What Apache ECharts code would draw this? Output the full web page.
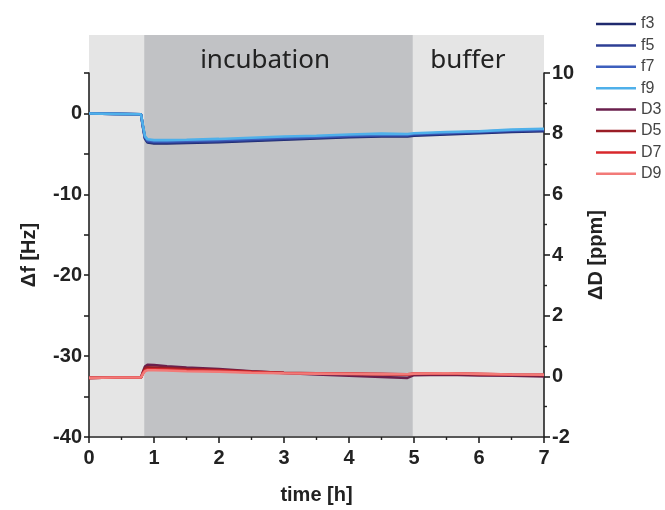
<!DOCTYPE html>
<html>
<head>
<meta charset="utf-8">
<script src="https://cdn.jsdelivr.net/npm/echarts@6/dist/echarts.min.js"></script>
<style>
  html, body { margin: 0; padding: 0; background: #ffffff; }
  #chart { width: 665px; height: 510px; }
</style>
</head>
<body>
<div id="chart"></div>
<script>
// QCM-D run: frequency shifts (left axis) and dissipation shifts (right axis) over time
const time = [0, 0.4, 0.8, 0.83, 0.86, 0.9, 1.0, 1.2, 1.5, 2.0, 2.5, 3.0, 3.5, 4.0, 4.5, 4.9, 5.0, 5.5, 6.0, 6.5, 7.0];

// Δf [Hz] per overtone
const f3 = [0.0, -0.05, -0.1, -1.7, -3.1, -3.6, -3.7, -3.7, -3.65, -3.55, -3.4, -3.25, -3.1, -2.95, -2.85, -2.85, -2.75, -2.6, -2.45, -2.3, -2.2];
const f5 = [0.0, -0.05, -0.1, -1.6, -3.0, -3.5, -3.6, -3.6, -3.55, -3.45, -3.3, -3.15, -3.0, -2.85, -2.75, -2.75, -2.65, -2.5, -2.35, -2.2, -2.1];
const f7 = [0.0, -0.05, -0.1, -1.55, -2.9, -3.35, -3.45, -3.45, -3.4, -3.3, -3.15, -3.0, -2.9, -2.75, -2.65, -2.65, -2.55, -2.4, -2.25, -2.1, -2.0];
const f9 = [0.0, -0.05, -0.1, -1.5, -2.8, -3.2, -3.3, -3.3, -3.25, -3.15, -3.0, -2.85, -2.75, -2.6, -2.5, -2.55, -2.45, -2.3, -2.2, -2.0, -1.9];

// ΔD [ppm] per overtone
const D3 = [-0.05, -0.04, -0.04, 0.15, 0.32, 0.38, 0.37, 0.33, 0.29, 0.24, 0.17, 0.11, 0.06, 0.02, -0.02, -0.05, 0.04, 0.05, 0.03, 0.02, 0.0];
const D5 = [-0.05, -0.04, -0.04, 0.12, 0.26, 0.3, 0.29, 0.27, 0.24, 0.21, 0.16, 0.12, 0.1, 0.08, 0.06, 0.05, 0.08, 0.09, 0.07, 0.05, 0.04];
const D7 = [-0.05, -0.04, -0.04, 0.1, 0.2, 0.23, 0.23, 0.22, 0.2, 0.18, 0.14, 0.11, 0.1, 0.09, 0.08, 0.07, 0.09, 0.1, 0.08, 0.06, 0.05];
const D9 = [-0.05, -0.04, -0.04, 0.08, 0.17, 0.2, 0.2, 0.19, 0.17, 0.15, 0.12, 0.1, 0.09, 0.08, 0.07, 0.07, 0.09, 0.1, 0.08, 0.06, 0.05];

// experiment phases [start h, end h]
const incubationPhase = [0.85, 4.98];
const bufferPhase = [4.98, 7];

const fColors = ['#1f2a6e', '#2e3f95', '#3d5fbd', '#4fb0ea'];
const dColors = ['#6a1f4c', '#9a1d26', '#d8282c', '#f27a78'];

const fNames = ['f3', 'f5', 'f7', 'f9'];
const dNames = ['D3', 'D5', 'D7', 'D9'];
const fData = [f3, f5, f7, f9];
const dData = [D3, D5, D7, D9];

const pair = arr => time.map((t, i) => [t, arr[i]]);

const axisFont = { fontFamily: 'Liberation Sans, Arial, sans-serif', fontWeight: 'bold', fontSize: 20, color: '#222' };
const axisLineStyle = { onZero: false, lineStyle: { color: '#222', width: 1.6 } };

const series = [];
// phase bands behind the traces
series.push({
  type: 'line',
  xAxisIndex: 1,
  yAxisIndex: 2,
  data: [],
  silent: true,
  markArea: {
    silent: true,
    data: [
      [{ xAxis: incubationPhase[0], yAxis: 0, itemStyle: { color: '#c1c2c5' },
         label: { show: true, position: ['45%', 13], align: 'center', verticalAlign: 'top', formatter: 'incubation' } },
       { xAxis: incubationPhase[1], yAxis: 1 }],
      [{ xAxis: bufferPhase[0], yAxis: 0, itemStyle: { color: 'rgba(0,0,0,0)' },
         label: { show: true, position: ['42%', 13], align: 'center', verticalAlign: 'top', formatter: 'buffer' } },
       { xAxis: bufferPhase[1], yAxis: 1 }]
    ],
    label: { fontFamily: 'Noto Sans, Open Sans, sans-serif', fontSize: 26, color: '#222' }
  }
});
fNames.forEach((n, i) => series.push({
  name: n, type: 'line', xAxisIndex: 0, yAxisIndex: 0, data: pair(fData[i]),
  symbol: 'none', lineStyle: { width: 2.6, color: fColors[i] }, itemStyle: { color: fColors[i] }
}));
dNames.forEach((n, i) => series.push({
  name: n, type: 'line', xAxisIndex: 0, yAxisIndex: 1, data: pair(dData[i]),
  symbol: 'none', lineStyle: { width: 2.6, color: dColors[i] }, itemStyle: { color: dColors[i] }
}));

const option = {
  animation: false,
  backgroundColor: '#ffffff',
  legend: {
    orient: 'vertical',
    left: 596,
    top: 16,
    padding: 0,
    icon: 'rect',
    itemWidth: 40,
    itemHeight: 2.5,
    itemGap: 5.4,
    data: fNames.concat(dNames),
    textStyle: { fontFamily: 'Liberation Sans, Arial, sans-serif', fontSize: 16, lineHeight: 16, color: '#444', padding: [0, 0, 0, 0] }
  },
  grid: [
    { left: 89, right: 121, top: 73, bottom: 72, containLabel: false },
    { left: 89, right: 121, top: 35, bottom: 74, show: true, backgroundColor: '#e5e5e5', borderWidth: 0, z: -1 }
  ],
  xAxis: [
    {
      type: 'value', gridIndex: 0, min: 0, max: 7, interval: 1, position: 'bottom',
      name: 'time [h]', nameLocation: 'middle', nameGap: 48, nameTextStyle: axisFont,
      axisLine: axisLineStyle,
      axisTick: { inside: false, length: 6, lineStyle: { color: '#222', width: 1.6 } },
      minorTick: { show: true, splitNumber: 2, length: 3, lineStyle: { color: '#222', width: 1.4 } },
      axisLabel: Object.assign({ margin: 11 }, axisFont),
      splitLine: { show: false }
    },
    {
      type: 'value', gridIndex: 1, min: 0, max: 7, show: false,
      axisLine: { show: false, onZero: false }, axisTick: { show: false }, axisLabel: { show: false },
      splitLine: { show: false }
    }
  ],
  yAxis: [
    {
      type: 'value', gridIndex: 0, min: -40, max: 5, interval: 5, position: 'left',
      name: 'Δf [Hz]', nameLocation: 'middle', nameGap: 50, nameTextStyle: axisFont,
      axisLine: Object.assign({ show: true }, axisLineStyle),
      axisTick: { show: true, inside: false, length: 5, lineStyle: { color: '#222', width: 1.6 } },
      axisLabel: Object.assign({ margin: 7, formatter: v => (v % 10 === 0 ? String(v) : '') }, axisFont),
      splitLine: { show: false }
    },
    {
      type: 'value', gridIndex: 0, min: -2, max: 10, interval: 2, position: 'right',
      name: 'ΔD [ppm]', nameLocation: 'middle', nameGap: 42, nameTextStyle: axisFont,
      axisLine: Object.assign({ show: true }, axisLineStyle),
      axisTick: { show: true, inside: false, length: 6, lineStyle: { color: '#222', width: 1.6 } },
      minorTick: { show: true, splitNumber: 2, length: 3, lineStyle: { color: '#222', width: 1.4 } },
      axisLabel: Object.assign({ margin: 8 }, axisFont),
      splitLine: { show: false }
    },
    {
      type: 'value', gridIndex: 1, min: 0, max: 1, show: false,
      axisLine: { show: false, onZero: false }, axisTick: { show: false }, axisLabel: { show: false },
      splitLine: { show: false }
    }
  ],
  series: series
};

const chart = echarts.init(document.getElementById('chart'), null, { renderer: 'canvas' });
chart.setOption(option);
</script>
</body>
</html>
